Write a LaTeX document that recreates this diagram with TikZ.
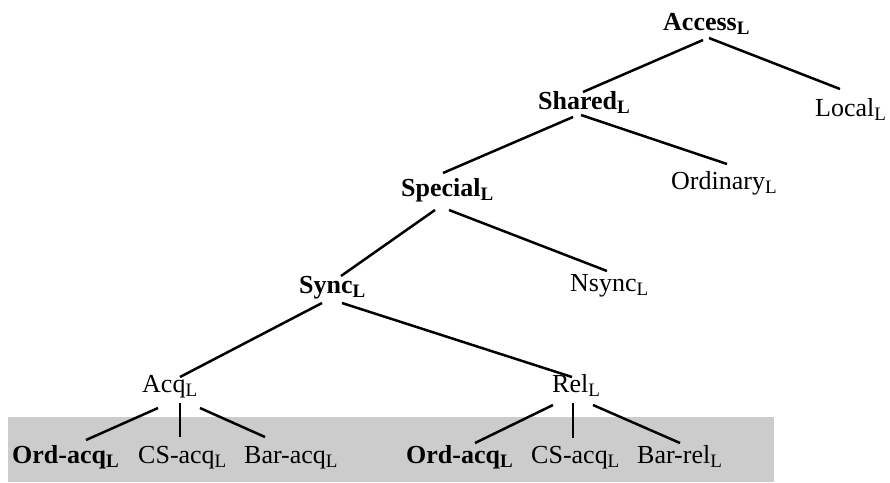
\documentclass[tikz,border=0pt]{standalone}
\usepackage{fontspec}
\setmainfont{Liberation Serif}
% subscript L, set a little below the baseline
\newcommand\subL{\raisebox{-4pt}{\fontsize{19}{19}\selectfont L}}
\definecolor{bandgray}{RGB}{204,204,204}
\tikzset{
  lbl/.style={anchor=base west, inner sep=0pt, font=\fontsize{26}{31}\selectfont},
  hd/.style={lbl, font=\fontsize{26}{31}\selectfont\bfseries},
  edge/.style={line width=2.5pt, line cap=butt},
}
\begin{document}
\begin{tikzpicture}[x=1pt,y=-1pt]
\useasboundingbox (0,0) rectangle (890,482);
% shaded band behind the leaf row
\fill[bandgray] (8,417) rectangle (774,482);

% nodes
\node[hd]  (acc)   at (663,30)  {Access\subL};
\node[hd]  (sh)    at (538,109) {Shared\subL};
\node[lbl] (loc)   at (815,116) {Local\subL};
\node[hd]  (spec)  at (401,196) {Special\subL};
\node[lbl] (ord)   at (671,189) {Ordinary\subL};
\node[hd]  (sync)  at (299,293) {Sync\subL};
\node[lbl] (nsync) at (570,291) {Nsync\subL};
\node[lbl] (acq)   at (142,392) {Acq\subL};
\node[lbl] (rel)   at (552,392) {Rel\subL};
\node[hd]  (la)    at (12,463)  {Ord-acq\subL};
\node[lbl] (lb)    at (138,463) {CS-acq\subL};
\node[lbl] (lc)    at (244,463) {Bar-acq\subL};
\node[hd]  (ra)    at (406,463) {Ord-acq\subL};
\node[lbl] (rb)    at (531,463) {CS-acq\subL};
\node[lbl] (rc)    at (637,463) {Bar-rel\subL};

% edges
\draw[edge] ([shift={(40,10)}]acc.base west)  -- ([shift={(45,-17)}]sh.base west);
\draw[edge] ([shift={(46,8)}]acc.base west)   -- ([shift={(25,-27)}]loc.base west);
\draw[edge] ([shift={(35,8)}]sh.base west)    -- ([shift={(42,-23)}]spec.base west);
\draw[edge] ([shift={(43,6)}]sh.base west)    -- ([shift={(56,-25)}]ord.base west);
\draw[edge] ([shift={(34,14)}]spec.base west) -- ([shift={(42,-17)}]sync.base west);
\draw[edge] ([shift={(48,14)}]spec.base west) -- ([shift={(37,-20)}]nsync.base west);
\draw[edge] ([shift={(23,10)}]sync.base west) -- ([shift={(38,-15)}]acq.base west);
\draw[edge] ([shift={(43,10)}]sync.base west) -- ([shift={(20,-15)}]rel.base west);
\draw[edge] ([shift={(16,16)}]acq.base west)  -- ([shift={(74,-23)}]la.base west);
\draw[edge] ([shift={(38,11)}]acq.base west)  -- ([shift={(42,-26)}]lb.base west);
\draw[edge] ([shift={(58,16)}]acq.base west)  -- ([shift={(21,-26)}]lc.base west);
\draw[edge] ([shift={(1,13)}]rel.base west)   -- ([shift={(69,-20)}]ra.base west);
\draw[edge] ([shift={(21,11)}]rel.base west)  -- ([shift={(42,-25)}]rb.base west);
\draw[edge] ([shift={(41,13)}]rel.base west)  -- ([shift={(43,-20)}]rc.base west);
\end{tikzpicture}
\end{document}
